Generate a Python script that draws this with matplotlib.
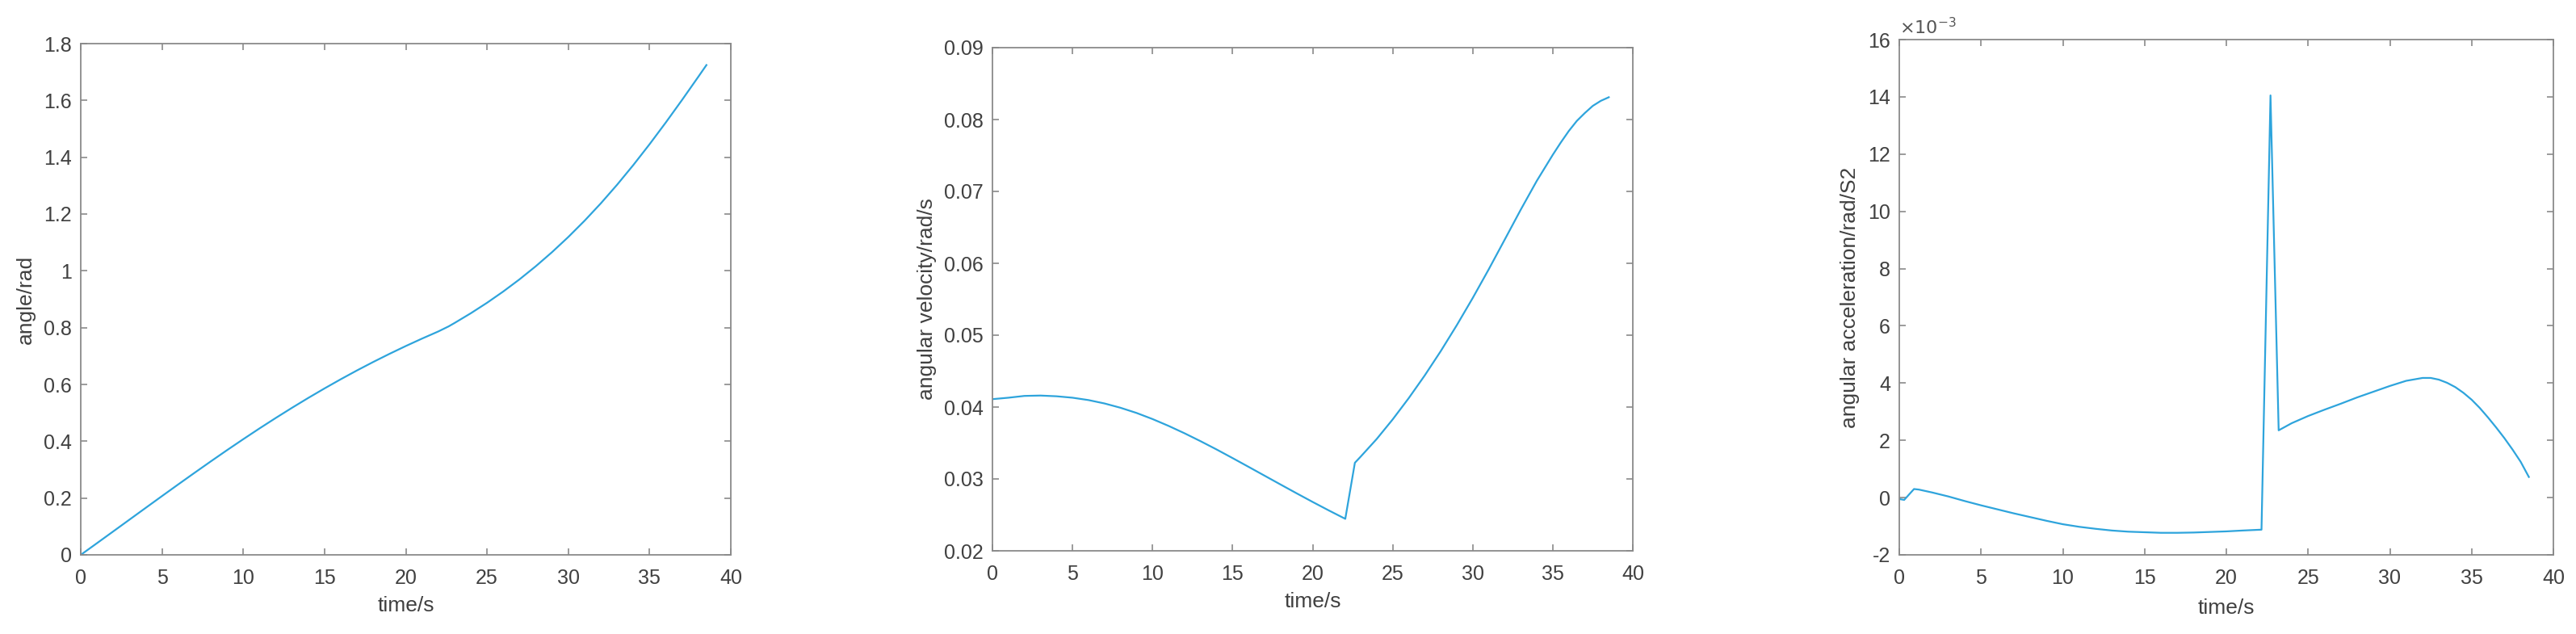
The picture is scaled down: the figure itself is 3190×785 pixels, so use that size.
"""Three-panel MATLAB-style kinematics plot: angle, angular velocity, angular acceleration."""

import matplotlib
matplotlib.use("Agg")
import matplotlib.pyplot as plt
from matplotlib.ticker import FuncFormatter

plt.rcParams["font.family"] = ["Liberation Sans", "DejaVu Sans"]

# angle/rad vs time/s
ANGLE_T = [0, 1, 2, 3, 4, 5, 6, 7, 8, 9, 10, 11, 12, 13, 14, 15, 16, 17, 18, 19,
           20, 21, 22, 22.64, 23, 24, 25, 26, 27, 28, 29, 30, 31, 32, 33, 34,
           35, 36, 37, 38, 38.5]
ANGLE = [0.0, 0.0412, 0.0826, 0.1241, 0.1656, 0.2070, 0.2481, 0.2888, 0.3290,
         0.3686, 0.4073, 0.4452, 0.4820, 0.5178, 0.5525, 0.5860, 0.6183, 0.6494,
         0.6792, 0.7078, 0.7352, 0.7614, 0.7865, 0.8045, 0.8163, 0.8506, 0.8875,
         0.9273, 0.9701, 1.0162, 1.0658, 1.1191, 1.1763, 1.2375, 1.3029, 1.3724,
         1.4457, 1.5223, 1.6017, 1.6832, 1.7245]

# angular velocity/rad/s vs time/s
VEL_T = [0, 1, 2, 3, 4, 5, 6, 7, 8, 9, 10, 11, 12, 13, 14, 15, 16, 17, 18, 19,
         20, 21, 22.04, 22.64, 23, 24, 25, 26, 27, 28, 29, 30, 31, 32, 33, 34,
         35, 35.5, 36, 36.5, 37, 37.5, 38, 38.5]
VEL = [0.0411, 0.0413, 0.04155, 0.0416, 0.0415, 0.0413, 0.04097, 0.0405, 0.0399,
       0.03918, 0.03833, 0.03738, 0.03635, 0.03525, 0.0341, 0.0329, 0.03168,
       0.03045, 0.02922, 0.028, 0.0268, 0.02563, 0.02445, 0.03225, 0.0331,
       0.03555, 0.03828, 0.04123, 0.04439, 0.04777, 0.05137, 0.05517, 0.05916,
       0.0633, 0.06746, 0.07146, 0.07509, 0.0768, 0.0784, 0.0798, 0.0809,
       0.0819, 0.0826, 0.0831]

# angular acceleration/rad/S2 vs time/s
ACC_T = [0, 0.3, 0.9, 1.2, 2, 3, 4, 5, 6, 7, 8, 9, 10, 11, 12, 13, 14, 15, 16,
         17, 18, 19, 20, 21, 22.15, 22.7, 23.2, 24, 25, 26, 27, 28, 29, 30, 31,
         32, 32.5, 33, 33.5, 34, 34.5, 35, 35.5, 36, 36.5, 37, 37.5, 38, 38.5]
ACC = [-0.05e-3, -0.08e-3, 0.30e-3, 0.28e-3, 0.18e-3, 0.04e-3, -0.12e-3,
       -0.27e-3, -0.41e-3, -0.55e-3, -0.68e-3, -0.81e-3, -0.93e-3, -1.02e-3,
       -1.09e-3, -1.15e-3, -1.19e-3, -1.21e-3, -1.23e-3, -1.23e-3, -1.22e-3,
       -1.20e-3, -1.18e-3, -1.15e-3, -1.12e-3, 14.05e-3, 2.35e-3, 2.60e-3,
       2.85e-3, 3.07e-3, 3.28e-3, 3.50e-3, 3.70e-3, 3.90e-3, 4.08e-3, 4.18e-3,
       4.18e-3, 4.12e-3, 4.01e-3, 3.86e-3, 3.66e-3, 3.42e-3, 3.13e-3, 2.80e-3,
       2.45e-3, 2.08e-3, 1.68e-3, 1.25e-3, 0.72e-3]

X_TICKS = [0, 5, 10, 15, 20, 25, 30, 35, 40]
ANGLE_TICKS = [0, 0.2, 0.4, 0.6, 0.8, 1, 1.2, 1.4, 1.6, 1.8]
VEL_TICKS = [0.02, 0.03, 0.04, 0.05, 0.06, 0.07, 0.08, 0.09]
ACC_TICKS = [-2e-3, 0, 2e-3, 4e-3, 6e-3, 8e-3, 10e-3, 12e-3, 14e-3, 16e-3]

LINE_COLOR = "#2ea4dc"
AXIS_COLOR = "#8a8a8a"
TEXT_COLOR = "#404040"
W, H = 3190, 785


def style_axes(ax, xlabel, ylabel, xlab_y, ylab_x):
    for sp in ax.spines.values():
        sp.set_color(AXIS_COLOR)
        sp.set_linewidth(1.3)
    ax.tick_params(direction="in", length=6, width=1.2, color=AXIS_COLOR,
                   labelcolor=TEXT_COLOR, labelsize=18, top=True, right=True)
    ax.tick_params(axis="x", pad=12)
    ax.tick_params(axis="y", pad=8)
    ax.set_xlim(0, 40)
    ax.set_xticks(X_TICKS)
    ax.set_xticklabels([str(t) for t in X_TICKS])
    ax.set_xlabel(xlabel, fontsize=19, color=TEXT_COLOR)
    ax.set_ylabel(ylabel, fontsize=19, color=TEXT_COLOR)
    ax.xaxis.label.set_va("center")
    ax.yaxis.label.set_va("center")
    ax.xaxis.set_label_coords(0.5, xlab_y)
    ax.yaxis.set_label_coords(ylab_x, 0.5)


def px_rect(left, top, right, bottom):
    return [left / W, (H - bottom) / H, (right - left) / W, (bottom - top) / H]


fig = plt.figure(figsize=(W / 100, H / 100), dpi=100)

ax1 = fig.add_axes(px_rect(100, 54, 905, 687))
ax1.plot(ANGLE_T, ANGLE, color=LINE_COLOR, linewidth=1.6)
ax1.set_ylim(0, 1.8)
ax1.set_yticks(ANGLE_TICKS)
ax1.set_yticklabels(["0", "0.2", "0.4", "0.6", "0.8", "1", "1.2", "1.4", "1.6", "1.8"])
style_axes(ax1, "time/s", "angle/rad", -0.0995, -0.0845)

ax2 = fig.add_axes(px_rect(1229, 59, 2022, 682))
ax2.plot(VEL_T, VEL, color=LINE_COLOR, linewidth=1.6)
ax2.set_ylim(0.02, 0.09)
ax2.set_yticks(VEL_TICKS)
ax2.set_yticklabels([f"{v:.2f}" for v in VEL_TICKS])
style_axes(ax2, "time/s", "angular velocity/rad/s", -0.101, -0.102)

ax3 = fig.add_axes(px_rect(2352, 49, 3162, 687))
ax3.plot(ACC_T, ACC, color=LINE_COLOR, linewidth=1.6)
ax3.set_ylim(-2e-3, 16e-3)
ax3.set_yticks(ACC_TICKS)
ax3.yaxis.set_major_formatter(FuncFormatter(lambda v, _: f"{v * 1e3:.0f}"))
style_axes(ax3, "time/s", "angular acceleration/rad/S2", -0.103, -0.0753)
ax3.text(0.0, 1.011, r"$\times10^{-3}$", transform=ax3.transAxes,
         ha="left", va="baseline", fontsize=16, color="#555555")

fig.savefig("out.png", dpi=100)
plt.close(fig)
